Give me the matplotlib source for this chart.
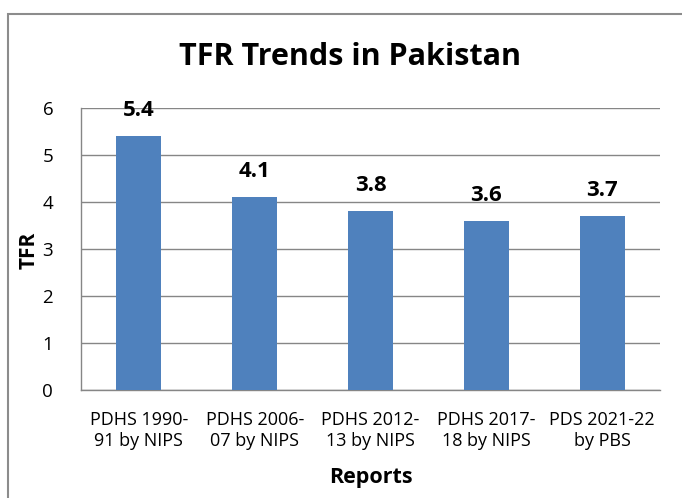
import matplotlib
matplotlib.use("Agg")
import matplotlib.pyplot as plt
from matplotlib.patches import Rectangle

categories = ["PDHS 1990-\n91 by NIPS", "PDHS 2006-\n07 by NIPS", "PDHS 2012-\n13 by NIPS",
              "PDHS 2017-\n18 by NIPS", "PDS 2021-22\nby PBS"]
tfr = [5.4, 4.1, 3.8, 3.6, 3.7]
yticks = [0, 1, 2, 3, 4, 5, 6]

W, H = 682, 498
fig = plt.figure(figsize=(W / 100, H / 100), dpi=100)
font = "Open Sans"
plt.rcParams['font.family'] = [font, 'DejaVu Sans']

# outer chart border
fig.patches.append(Rectangle((8 / W, 1 - 14 / H - 2), 2, 2, transform=fig.transFigure,
                             fill=False, edgecolor="#8c8c8c", linewidth=1.5))

ax = fig.add_axes([81 / W, 1 - 390 / H, (660 - 81) / W, (390 - 108) / H])
x = list(range(len(categories)))
ax.bar(x, tfr, width=0.39, color="#4F81BD", zorder=3)
ax.set_xlim(-0.5, len(categories) - 0.5)
ax.set_ylim(0, 6)
ax.set_yticks(yticks)
ax.set_yticklabels([str(v) for v in yticks], fontsize=13.5)
ax.set_xticks(x)
ax.set_xticklabels(categories, fontsize=13, linespacing=1.25)
ax.tick_params(axis="both", length=0)
ax.tick_params(axis="y", pad=20)
ax.tick_params(axis="x", pad=15)
ax.grid(axis="y", color="#868686", linewidth=1, zorder=0)
for s in ["top", "right"]:
    ax.spines[s].set_visible(False)
for s in ["left", "bottom"]:
    ax.spines[s].set_color("#868686")
    ax.spines[s].set_linewidth(1)

for xi, v in zip(x, tfr):
    ax.annotate(f"{v}", (xi, v), xytext=(0, 11), textcoords="offset points",
                ha="center", va="bottom", fontsize=16, fontweight="bold")

ax.set_xlabel("Reports", fontsize=15.5, fontweight="bold", labelpad=12)
fig.text(29.5 / W, 1 - 250 / H, "TFR", rotation=90, ha="center", va="center",
         fontsize=15, fontweight="bold")
fig.text(350 / W, 1 - 57 / H, "TFR Trends in Pakistan", ha="center", va="center",
         fontsize=22, fontweight="bold")

fig.savefig("out.png", dpi=100)
